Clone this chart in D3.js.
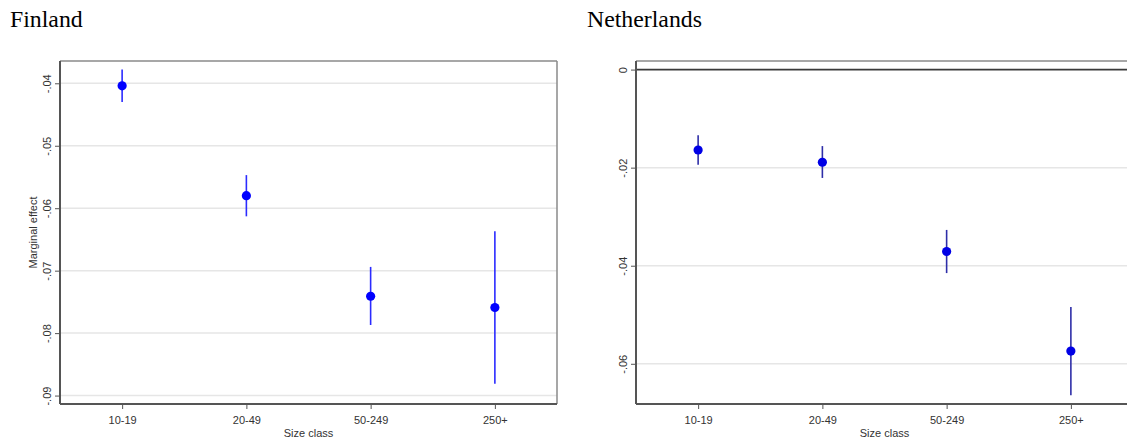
<!DOCTYPE html>
<html>
<head>
<meta charset="utf-8">
<script src="https://cdn.jsdelivr.net/npm/d3@7"></script>
<style>
  html, body { margin: 0; padding: 0; background: #fff; }
  svg { display: block; }
  text { font-family: "Liberation Sans", Arial, sans-serif; }
</style>
</head>
<body>
<svg id="chart" width="1127" height="440"></svg>
<script>
// ---- data ----
const categories = ["10-19", "20-49", "50-249", "250+"];

const finlandEst = [-0.0404, -0.0580, -0.0741, -0.0759];
const finlandLo  = [-0.0430, -0.0613, -0.0787, -0.0881];
const finlandHi  = [-0.0378, -0.0547, -0.0694, -0.0637];
const finlandTicks = [-0.04, -0.05, -0.06, -0.07, -0.08, -0.09];
const finlandTickLabels = ["-.04", "-.05", "-.06", "-.07", "-.08", "-.09"];

const netherlandsEst = [-0.0164, -0.0189, -0.0371, -0.0574];
const netherlandsLo  = [-0.0194, -0.0221, -0.0415, -0.0664];
const netherlandsHi  = [-0.0134, -0.0156, -0.0327, -0.0484];
const netherlandsTicks = [0, -0.02, -0.04, -0.06];
const netherlandsTickLabels = ["0", "-.02", "-.04", "-.06"];

const svg = d3.select("#chart");

function panel(opts) {
  const { title, titleX, left, right, top, bottom, domain, est, lo, hi,
          ticks, tickLabels, yTitle, zeroLine, ciColor, dotColor, rightBorder } = opts;
  const g = svg.append("g");

  g.append("text")
    .attr("x", titleX).attr("y", 27)
    .style("font-family", "'Liberation Serif', 'Times New Roman', serif")
    .style("font-size", "23.8px")
    .attr("fill", "#000")
    .text(title);

  const x = d3.scalePoint().domain(categories).range([left, right]).padding(0.5);
  const y = d3.scaleLinear().domain(domain).range([bottom, top]);

  const clip = "clip-" + title;
  g.append("clipPath").attr("id", clip)
    .append("rect").attr("x", left).attr("y", top - 2).attr("width", right - left).attr("height", bottom - top + 4);

  // gridlines
  g.append("g").selectAll("line")
    .data(ticks.filter(t => !(zeroLine && t === 0)))
    .join("line")
    .attr("x1", left).attr("x2", right)
    .attr("y1", d => y(d)).attr("y2", d => y(d))
    .attr("stroke", "#e6e6e6").attr("stroke-width", 1.5);

  // top border
  g.append("line")
    .attr("x1", left).attr("x2", right).attr("y1", top).attr("y2", top)
    .attr("stroke", "#8a8a8a").attr("stroke-width", 1.5);
  if (rightBorder) {
    g.append("line")
      .attr("x1", right).attr("x2", right).attr("y1", top).attr("y2", bottom)
      .attr("stroke", "#8a8a8a").attr("stroke-width", 1.5);
  }
  if (zeroLine) {
    g.append("line")
      .attr("x1", left).attr("x2", right).attr("y1", y(0)).attr("y2", y(0))
      .attr("stroke", "#3a3a3a").attr("stroke-width", 1.8);
  }

  // y axis
  const yAxis = d3.axisLeft(y).tickValues(ticks)
    .tickFormat((d, i) => tickLabels[i]).tickSize(5).tickPadding(0);
  const ya = g.append("g").attr("transform", `translate(${left},0)`).call(yAxis);
  ya.select(".domain").remove();
  ya.selectAll(".tick line").attr("stroke", "#555").attr("stroke-width", 1);
  ya.selectAll(".tick text")
    .attr("transform", "translate(-9,0) rotate(-90)")
    .attr("x", 0).attr("y", 0).attr("dy", 0)
    .attr("text-anchor", "middle")
    .attr("fill", "#333")
    .style("font-size", "11px");
  g.append("line")
    .attr("x1", left).attr("x2", left).attr("y1", top).attr("y2", bottom)
    .attr("stroke", "#555").attr("stroke-width", 2);

  // x axis
  const xAxis = d3.axisBottom(x).tickSize(5).tickPadding(5);
  const xa = g.append("g").attr("transform", `translate(0,${bottom})`).call(xAxis);
  xa.select(".domain").remove();
  xa.selectAll(".tick line").attr("stroke", "#555").attr("stroke-width", 1);
  xa.selectAll(".tick text").attr("fill", "#333").style("font-size", "11px").attr("dy", "0.9em");
  g.append("line")
    .attr("x1", left).attr("x2", right).attr("y1", bottom).attr("y2", bottom)
    .attr("stroke", "#555").attr("stroke-width", 2);

  g.append("text")
    .attr("x", (left + right) / 2).attr("y", bottom + 33)
    .attr("text-anchor", "middle").attr("fill", "#333")
    .style("font-size", "11px")
    .text("Size class");

  if (yTitle) {
    g.append("text")
      .attr("transform", `translate(${left - 23},${(top + bottom) / 2}) rotate(-90)`)
      .attr("text-anchor", "middle").attr("fill", "#333")
      .style("font-size", "11px")
      .text(yTitle);
  }

  // CI lines and points
  const data = categories.map((c, i) => ({ c, e: est[i], lo: lo[i], hi: hi[i] }));
  const m = g.append("g").attr("clip-path", `url(#${clip})`);
  m.selectAll("line.ci").data(data).join("line").attr("class", "ci")
    .attr("x1", d => x(d.c)).attr("x2", d => x(d.c))
    .attr("y1", d => y(d.lo)).attr("y2", d => y(d.hi))
    .attr("stroke", ciColor).attr("stroke-width", 1.6);
  m.selectAll("circle").data(data).join("circle")
    .attr("cx", d => x(d.c)).attr("cy", d => y(d.e))
    .attr("r", 4.6).attr("fill", dotColor);
}

panel({
  title: "Finland", titleX: 10,
  left: 60, right: 557, top: 61, bottom: 404,
  domain: [-0.09135, -0.03643],
  est: finlandEst, lo: finlandLo, hi: finlandHi,
  ticks: finlandTicks, tickLabels: finlandTickLabels,
  yTitle: "Marginal effect", zeroLine: false,
  ciColor: "#2b2bff", dotColor: "#0000ff", rightBorder: true
});

panel({
  title: "Netherlands", titleX: 587,
  left: 636, right: 1133, top: 61, bottom: 404,
  domain: [-0.0682, 0.00175],
  est: netherlandsEst, lo: netherlandsLo, hi: netherlandsHi,
  ticks: netherlandsTicks, tickLabels: netherlandsTickLabels,
  yTitle: null, zeroLine: true,
  ciColor: "#2e2ea8", dotColor: "#0000e6", rightBorder: false
});
</script>
</body>
</html>
